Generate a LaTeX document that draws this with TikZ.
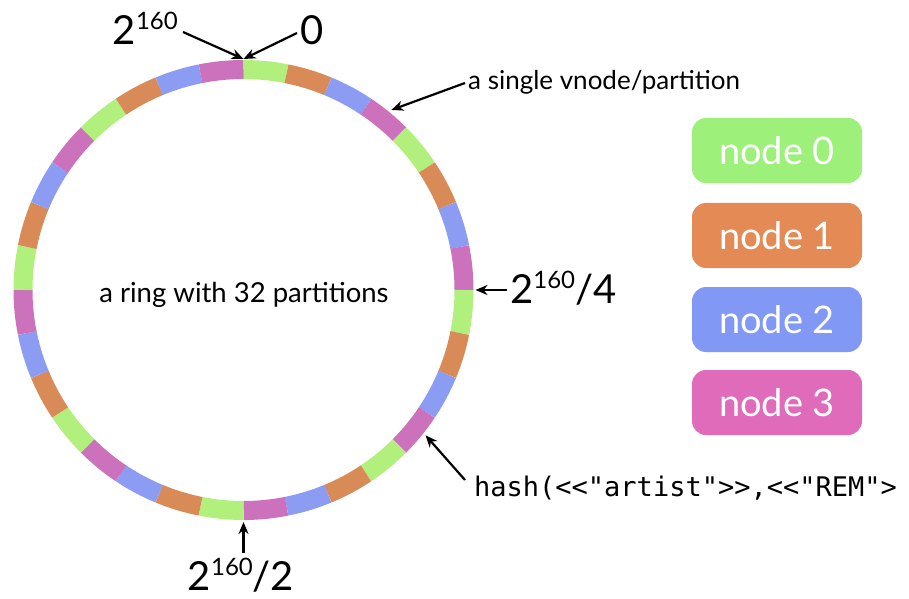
\documentclass[tikz,border=0pt]{standalone}
\usepackage{fontspec}
\setmainfont{Lato}
\setmonofont{DejaVu Sans Mono}
\usetikzlibrary{arrows.meta}
\definecolor{rg}{HTML}{B2F07D}
\definecolor{ro}{HTML}{D98B57}
\definecolor{rb}{HTML}{8C9CF2}
\definecolor{rp}{HTML}{CC72BC}
\definecolor{lg}{HTML}{9DF07A}
\definecolor{lo}{HTML}{E38A55}
\definecolor{lb}{HTML}{8298F5}
\definecolor{lp}{HTML}{E06BBA}
\newcommand\bigtwo[1]{{\fontsize{40}{40}\selectfont 2}\raisebox{15pt}{\fontsize{24}{24}\selectfont 160}{\fontsize{40}{40}\selectfont #1}}
\begin{document}
\begin{tikzpicture}[x=1pt,y=1pt,
  arr/.style={line width=2.2pt,-{Stealth[length=12pt,width=10pt]}},
  lab/.style={inner sep=0pt},
  legendbox/.style={rounded corners=14pt,minimum width=170pt,minimum height=65pt,inner sep=0pt,text=white,font=\fontsize{38}{38}\selectfont}]
\useasboundingbox (0,0) rectangle (909,598);
\coordinate (c) at (243.5,308);
\foreach \i in {0,...,31} {
  \pgfmathtruncatemacro\k{mod(\i,4)}
  \ifcase\k \def\col{rg}\or \def\col{ro}\or \def\col{rb}\or \def\col{rp}\fi
  \draw[line width=19pt,\col] ([shift={(90-\i*11.25:220.5)}]c) arc[start angle=90-\i*11.25,end angle=78.75-\i*11.25,radius=220.5];
}
% ring points
\coordinate (ringtop) at ([shift={(90:231)}]c);
\coordinate (vnodept) at ([shift={(50.6:233)}]c);
\coordinate (quarter) at ([shift={(0:232)}]c);
\coordinate (hashpt) at ([shift={(-38.6:233)}]c);
\coordinate (half) at ([shift={(-90:232)}]c);
% labels
\node[lab,anchor=base east] (lmax) at (178,553) {\bigtwo{}};
\node[lab,anchor=base west] (lzero) at (300,553) {\fontsize{40}{40}\selectfont 0};
\node[lab,anchor=west] (lvnode) at (468,516) {\fontsize{26}{26}\selectfont a single vnode/partition};
\node[lab,anchor=base west] (lquarter) at (510,295) {\bigtwo{/4}};
\node[lab,anchor=base] (lhalf) at (241,8) {\bigtwo{/2}};
\node[lab,anchor=base west] (lhash) at (474,102) {\fontsize{27}{27}\selectfont\ttfamily hash(<<"artist">>,<<"REM">};
\node[lab] (lring) at (244,303) {\fontsize{27.5}{27.5}\selectfont a ring with 32 partitions};
% arrow starts
\coordinate (smax) at (183,566);
\coordinate (szero) at (297,565);
\coordinate (svnode) at (465,515);
\coordinate (squarter) at (507,308);
\coordinate (shash) at (465,118);
\coordinate (shalf) at (243.5,45);
\draw[arr] (smax) -- (ringtop);
\draw[arr] (szero) -- (ringtop);
\draw[arr] (svnode) -- (vnodept);
\draw[arr] (squarter) -- (quarter);
\draw[arr] (shash) -- (hashpt);
\draw[arr] (shalf) -- (half);
% legend
\node[legendbox,fill=lg] (n0) at (777,447.5) {node 0};
\node[legendbox,fill=lo] (n1) at (777,362.5) {node 1};
\node[legendbox,fill=lb] (n2) at (777,278.5) {node 2};
\node[legendbox,fill=lp] (n3) at (777,195.5) {node 3};
\end{tikzpicture}
\end{document}
